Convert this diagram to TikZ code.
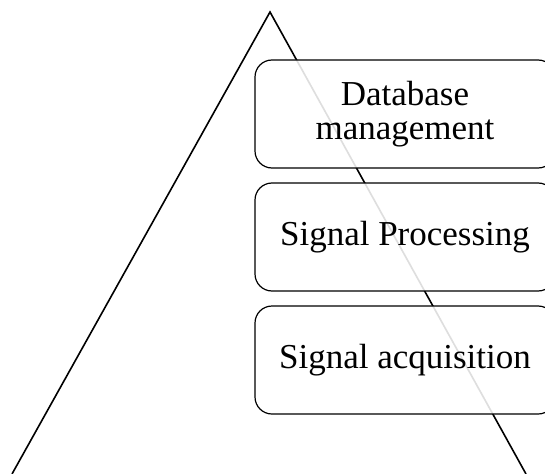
\documentclass[tikz,border=0pt]{standalone}
\usepackage{fontspec}
\setmainfont{Liberation Serif}
\begin{document}
\begin{tikzpicture}[x=1pt,y=-1pt,
  layer/.style={draw=black, line width=1.2pt, rounded corners=17pt,
    fill=white, fill opacity=0.87, draw opacity=1, text opacity=1,
    minimum width=300pt, minimum height=108pt, align=center,
    inner sep=0pt, font=\fontsize{35}{34}\selectfont},
  edge/.style={draw=black, line width=1.6pt}]
\useasboundingbox (0,0) rectangle (545,473);
% pyramid outline, open at the base
\coordinate (apex) at (270,12);
\coordinate (baseL) at (12,474);
\coordinate (baseR) at (526,474);
\draw[edge] (baseL) -- (apex) -- (baseR);
% stacked layers
\node[layer] (db) at (405,114) {Database\\management};
\node[layer] (sp) at (405,237) {Signal Processing};
\node[layer] (sa) at (405,360) {Signal acquisition};
\end{tikzpicture}
\end{document}
